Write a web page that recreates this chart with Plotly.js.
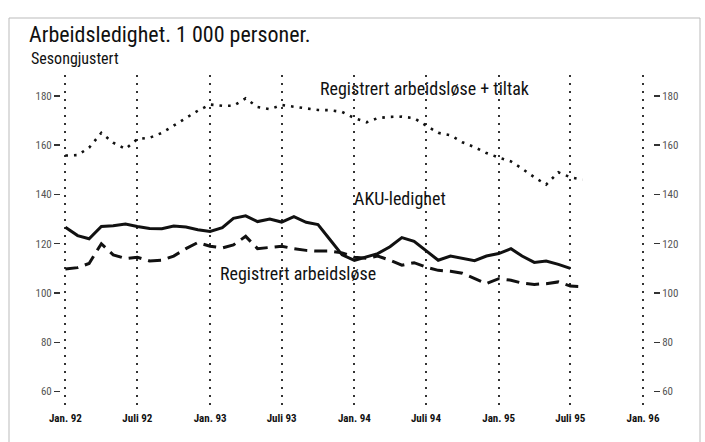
<!DOCTYPE html>
<html>
<head>
<meta charset="utf-8">
<script src="https://cdn.plot.ly/plotly-3.0.1.min.js"></script>
<style>
html,body{margin:0;padding:0;background:#fff;}
#chart{width:705px;height:442px;}
</style>
</head>
<body>
<div id="chart"></div>
<script>
// Months Jan 1992 .. Aug 1995
const months = [
 "1992-01-01","1992-02-01","1992-03-01","1992-04-01","1992-05-01","1992-06-01",
 "1992-07-01","1992-08-01","1992-09-01","1992-10-01","1992-11-01","1992-12-01",
 "1993-01-01","1993-02-01","1993-03-01","1993-04-01","1993-05-01","1993-06-01",
 "1993-07-01","1993-08-01","1993-09-01","1993-10-01","1993-11-01","1993-12-01",
 "1994-01-01","1994-02-01","1994-03-01","1994-04-01","1994-05-01","1994-06-01",
 "1994-07-01","1994-08-01","1994-09-01","1994-10-01","1994-11-01","1994-12-01",
 "1995-01-01","1995-02-01","1995-03-01","1995-04-01","1995-05-01","1995-06-01",
 "1995-07-01","1995-08-01"
];

// Registrert arbeidsløse + tiltak (dotted)
const regTiltak = [
 155.8,156,159,165,161,158.5,
 162.5,163,165,168,171,174,
 176.5,176,176,179,175.5,174.6,
 176.3,175.7,175,174.3,174.2,173.5,
 171,169.3,171,171.5,171.6,171,
 168,165,164,161.2,159.2,156.8,
 155,153.4,150.5,147,144,149,
 147,146
];

// AKU-ledighet (solid), Jan 92 .. Jul 95
const aku = [
 126.7,123.3,122,127,127.3,128,
 127,126.2,126.1,127.2,126.8,125.7,
 125,126.5,130.3,131.3,129,130,
 128.8,131,128.7,127.8,121.5,115.5,
 113.2,114.7,116,118.8,122.5,121,
 117.3,113.3,115,114.2,113.1,115,
 116,118,115,112.4,113,111.6,
 110
];

// Registrert arbeidsløse (dashed)
const regArb = [
 109.7,110.3,112,120,115.5,114,
 114.5,113,113.3,115,118,120.5,
 119,118.3,119.5,123,118,118.5,
 119,118,117.3,117,117,116.3,
 114.5,114.1,115,113.3,111.3,112.3,
 110.5,109.2,108.8,108,106,103.8,
 105.8,105.2,104,103.5,103.8,104.5,
 102.8,102.6
];

const tickDates = ["1992-01-01","1992-07-01","1993-01-01","1993-07-01","1994-01-01","1994-07-01","1995-01-01","1995-07-01","1996-01-01"];
const tickLabels = ["Jan. 92","Juli 92","Jan. 93","Juli 93","Jan. 94","Juli 94","Jan. 95","Juli 95","Jan. 96"];
const yTicks = [60,80,100,120,140,160,180];

const FONT = "'Liberation Sans Narrow', 'Arial Narrow', 'Roboto Condensed', 'Liberation Sans', Arial, sans-serif";

const traces = [
 {x: months, y: regTiltak, mode: 'lines', line: {color: '#111', width: 2.6, dash: '2.6px,6px'}, hoverinfo: 'skip'},
 {x: months.slice(0, aku.length), y: aku, mode: 'lines', line: {color: '#111', width: 3}, hoverinfo: 'skip'},
 {x: months, y: regArb, mode: 'lines', line: {color: '#111', width: 3, dash: '13px,7px'}, hoverinfo: 'skip'},
 {x: months, y: regArb, yaxis: 'y2', mode: 'lines', line: {width: 0}, opacity: 0, hoverinfo: 'skip'}
];

const yRange = [52.5, 188.5];
const layout = {
 width: 705, height: 442,
 margin: {l: 60, r: 52, t: 75, b: 32},
 paper_bgcolor: '#fff', plot_bgcolor: '#fff',
 showlegend: false,
 font: {family: FONT, color: '#111'},
 title: {text: 'Arbeidsledighet. 1 000 personer.', x: 29/705, xanchor: 'left', xref: 'container', y: 1 - 34/442, yanchor: 'middle',
         yref: 'container', font: {family: FONT, size: 22, color: '#111'}},
 xaxis: {
  type: 'date',
  range: ['1991-12-26', '1996-01-06'],
  domain: [3/593, 585/593],
  tickvals: tickDates, ticktext: tickLabels,
  showgrid: true, gridcolor: '#333', gridwidth: 2, griddash: '2px,6px',
  ticks: '', showline: false, zeroline: false,
  tickfont: {family: FONT, size: 11, color: '#111', weight: 'bold'}
 },
 yaxis: {
  range: yRange, anchor: 'free', position: 0,
  tickvals: yTicks, ticks: 'outside', ticklen: 6, tickwidth: 1.5, tickcolor: '#333',
  showgrid: false, zeroline: false, showline: false,
  tickfont: {family: FONT, size: 11, color: '#555'}
 },
 yaxis2: {
  range: yRange, overlaying: 'y', side: 'right', anchor: 'free', position: 1,
  tickvals: yTicks, ticks: 'outside', ticklen: 6, tickwidth: 1.5, tickcolor: '#333',
  showgrid: false, zeroline: false, showline: false,
  tickfont: {family: FONT, size: 11, color: '#555'}
 },
 annotations: [
  {text: 'Sesongjustert', xref: 'paper', yref: 'paper', x: (29-60)/593, y: (410-59)/335, xanchor: 'left', yanchor: 'middle',
   showarrow: false, font: {family: FONT, size: 16, color: '#111'}},
  {text: 'Registrert arbeidsløse + tiltak', xref: 'x', yref: 'y', x: '1993-10-01', y: 183.2, xanchor: 'left', yanchor: 'middle',
   showarrow: false, font: {family: FONT, size: 18, color: '#111'}},
  {text: 'AKU-ledighet', xref: 'x', yref: 'y', x: '1993-12-25', y: 138.2, xanchor: 'left', yanchor: 'middle',
   showarrow: false, font: {family: FONT, size: 18, color: '#111'}},
  {text: 'Registrert arbeidsløse', xref: 'x', yref: 'y', x: '1993-01-21', y: 108.1, xanchor: 'left', yanchor: 'middle',
   showarrow: false, font: {family: FONT, size: 18, color: '#111'}}
 ],
 shapes: [
  {type: 'rect', xref: 'paper', yref: 'paper', x0: (9-60)/593, x1: (700-60)/593, y0: (410-445)/335, y1: (410-18)/335,
   line: {color: '#bbb', width: 1}, fillcolor: 'rgba(0,0,0,0)', layer: 'below'}
 ]
};

Plotly.newPlot('chart', traces, layout, {staticPlot: true, displayModeBar: false});
</script>
</body>
</html>
